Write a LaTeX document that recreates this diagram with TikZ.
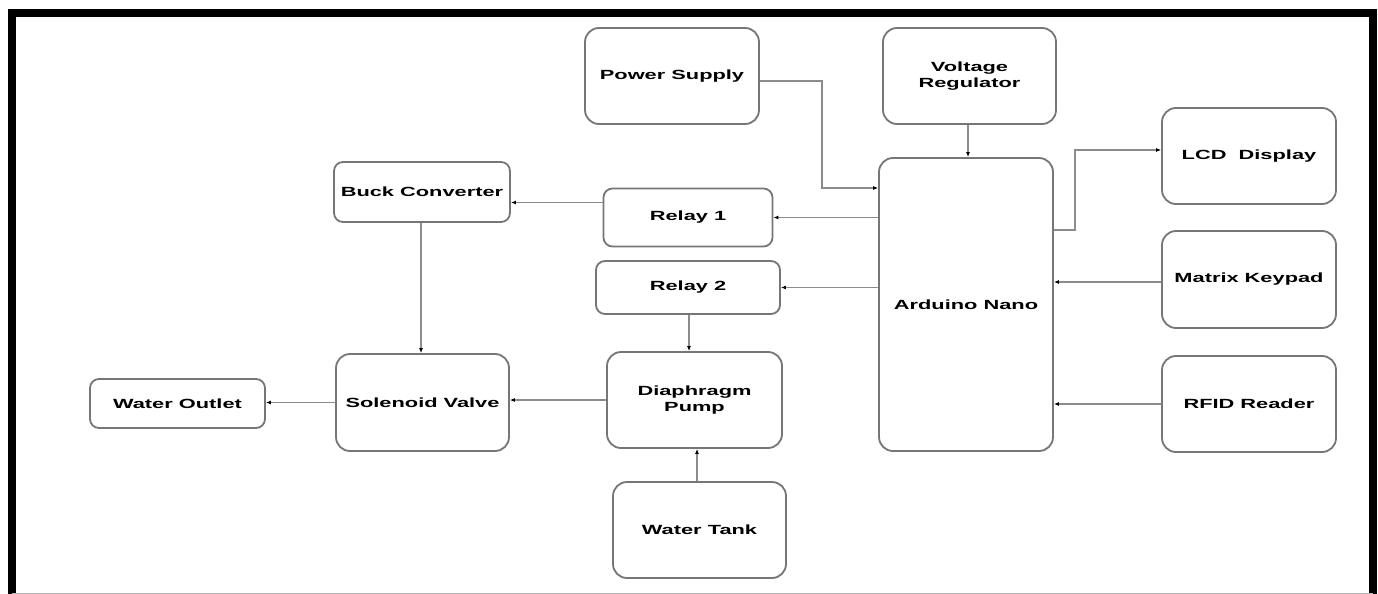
\documentclass[tikz,border=0pt]{standalone}
\usepackage{fontspec}
\usetikzlibrary{arrows.meta}
\newfontfamily\blockfont[FakeStretch=1.64]{Liberation Sans}
\definecolor{edgegray}{RGB}{118,118,118}
\definecolor{wiregray}{RGB}{140,140,140}
\tikzset{
  block/.style={draw=edgegray, line width=1.8pt, rounded corners=14pt, fill=white,
    inner sep=0pt, align=center, text=black,
    font=\blockfont\bfseries\fontsize{13.3}{15.3}\selectfont},
  smallblock/.style={block, rounded corners=9pt},
  link/.style={draw=wiregray, line width=1.1pt}
}

\begin{document}
\begin{tikzpicture}[x=1pt, y=-1pt, >={Latex[length=5pt,width=4pt,color=black]}]
      \useasboundingbox (0,0) rectangle (1378,594);
      \fill[white] (0,0) rectangle (1378,594);
      \draw[line width=8pt] (12,600) -- (12,13) -- (1372.5,13) -- (1372.5,600);
      \draw[gray!55, line width=1pt] (12,593) -- (1372.5,593);

      \node[block, minimum width=174, minimum height=96] (psu) at (672,76) {Power Supply};
      \node[block, minimum width=173, minimum height=96] (vreg) at (969.5,76) {Voltage\\Regulator};
      \node[block, minimum width=174, minimum height=96] (lcd) at (1249,156) {LCD\ \ Display};
      \node[block, minimum width=174, minimum height=97] (keypad) at (1249,279.5) {Matrix Keypad};
      \node[block, minimum width=174, minimum height=96] (rfid) at (1249,404) {RFID Reader};
      \node[block, minimum width=174, minimum height=293] (nano) at (966,304.5) {Arduino Nano};
      \node[smallblock, minimum width=169, minimum height=58] (relayA) at (688,217.5) {Relay 1};
      \node[smallblock, minimum width=184, minimum height=53] (relayB) at (688,287.5) {Relay 2};
      \node[smallblock, minimum width=176, minimum height=60] (buck) at (422,192) {Buck Converter};
      \node[block, minimum width=173, minimum height=97] (valve) at (422.5,402.5) {Solenoid Valve};
      \node[smallblock, minimum width=175, minimum height=49] (outlet) at (177.5,403.5) {Water Outlet};
      \node[block, minimum width=175, minimum height=96] (pump) at (694.5,400) {Diaphragm\\Pump};
      \node[block, minimum width=173, minimum height=96] (tank) at (699.5,530) {Water Tank};

      \coordinate (psubend) at (822,188);
      \coordinate (lcdbend) at (1075,150);

      \draw[link, ->] ([yshift=-5]psu.east) -| (psubend) -- (nano.west |- psubend);
      \draw[link, ->] (vreg.south -| 968,0) -- (nano.north -| 968,0);
      \draw[link, ->] ([yshift=74.5]nano.east) -| (lcdbend) -- (lcd.west |- lcdbend);
      \draw[link, ->] ([yshift=-2.5]keypad.west) -- ([yshift=-2.5]keypad.west -| nano.east);
      \draw[link, ->] (rfid.west) -- (rfid.west -| nano.east);
      \draw[link, ->] (nano.west |- relayA) -- (relayA.east);
      \draw[link, ->] (nano.west |- relayB) -- (relayB.east);
      \draw[link, ->] ([yshift=15]relayA.west) -- ([yshift=15]relayA.west -| buck.east);
      \draw[link, ->] (buck.south -| 421,0) -- (valve.north -| 421,0);
      \draw[link, ->] (relayB.south -| 689,0) -- (pump.north -| 689,0);
      \draw[link, ->] (pump.west) -- (pump.west -| valve.east);
      \draw[link, ->] (valve.west) -- (valve.west -| outlet.east);
      \draw[link, ->] (tank.north -| 697,0) -- (pump.south -| 697,0);
    \end{tikzpicture}
\end{document}
